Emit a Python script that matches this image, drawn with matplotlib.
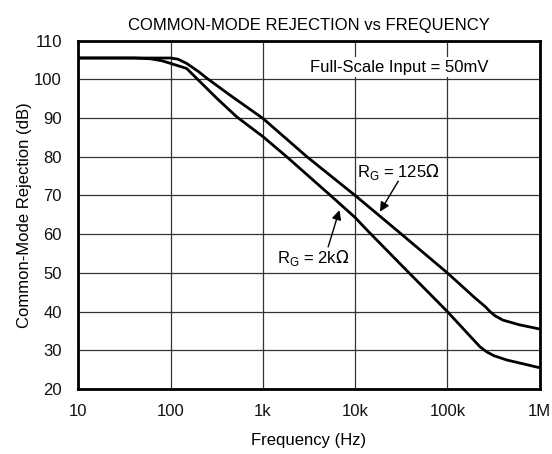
import matplotlib
matplotlib.use("Agg")
import matplotlib.pyplot as plt

plt.rcParams['font.family'] = ['Liberation Sans', 'DejaVu Sans']

# R_G = 125 ohm curve
freq_125 = [10, 50, 100, 120, 149, 200, 246, 440, 1000, 3000, 10000, 30000,
            100000, 200000, 260000, 290000, 330000, 400000, 600000, 1000000]
cmr_125 = [105.5, 105.5, 105.5, 105.2, 104.1, 102.0, 100.3, 95.9, 89.9, 80.0, 70.0, 60.5,
           50.0, 43.5, 41.2, 40.0, 38.9, 37.8, 36.6, 35.5]

# R_G = 2k ohm curve
freq_2k = [10, 40, 60, 80, 100, 149, 190, 316, 520, 1000, 1810, 5350, 10000, 13400,
           30000, 100000, 226000, 267000, 320000, 440000, 1000000]
cmr_2k = [105.5, 105.5, 105.3, 104.8, 104.1, 102.8, 100.3, 95.1, 90.3, 85.2, 80.0, 70.1, 64.3, 61.1,
          52.6, 40.0, 30.9, 29.6, 28.6, 27.5, 25.5]

xticks = [10, 100, 1000, 10000, 100000, 1000000]
xtick_labels = ['10', '100', '1k', '10k', '100k', '1M']
yticks = [20, 30, 40, 50, 60, 70, 80, 90, 100, 110]

fig = plt.figure(figsize=(5.52, 4.54), dpi=100)
ax = fig.add_axes([0.1422, 0.1432, 0.8352, 0.7674])

ax.plot(freq_125, cmr_125, color='black', lw=2.0, solid_joinstyle='round')
ax.plot(freq_2k, cmr_2k, color='black', lw=2.0, solid_joinstyle='round')

ax.set_xscale('log')
ax.set_xlim(10, 1e6)
ax.set_ylim(20, 110)
ax.set_xticks(xticks)
ax.set_xticklabels(xtick_labels)
ax.minorticks_off()
ax.set_yticks(yticks)
ax.grid(True, color='#333333', lw=0.9)
ax.tick_params(length=0, labelsize=12, colors='#111111')
ax.tick_params(axis='y', pad=12)
ax.tick_params(axis='x', pad=10.5)
for s in ax.spines.values():
    s.set_linewidth(2.0)

ax.set_xlabel('Frequency (Hz)', fontsize=12)
ax.set_ylabel('Common-Mode Rejection (dB)', fontsize=12)
ax.xaxis.set_label_coords(0.5, -0.126)
ax.yaxis.set_label_coords(-0.101, 0.5)
ax.set_title('COMMON-MODE REJECTION vs FREQUENCY', fontsize=12, pad=7.6)

# annotations
ax.text(30000, 102.0, 'Full-Scale Input = 50mV', fontsize=12, ha='center', va='baseline',
        bbox=dict(facecolor='white', edgecolor='none', pad=2))
ax.text(10400, 74.8, r'R$_\mathregular{G}$ = 125$\Omega$', fontsize=12, ha='left', va='baseline')
ax.annotate('', xy=(18600, 65.8), xytext=(29400, 73.7),
            arrowprops=dict(arrowstyle='-|>', color='black', lw=1.0, mutation_scale=14,
                            shrinkA=0, shrinkB=0))
ax.text(1410, 52.5, r'R$_\mathregular{G}$ = 2k$\Omega$', fontsize=12, ha='left', va='baseline')
ax.annotate('', xy=(6750, 66.2), xytext=(5100, 56.7),
            arrowprops=dict(arrowstyle='-|>', color='black', lw=1.0, mutation_scale=14,
                            shrinkA=0, shrinkB=0))

fig.savefig('out.png', dpi=100)
